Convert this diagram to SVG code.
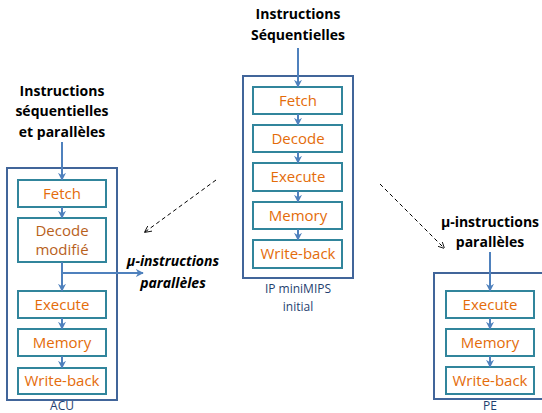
<svg xmlns="http://www.w3.org/2000/svg" width="542" height="413" viewBox="0 0 542 413">
<style>
.outer{fill:#fff;stroke:#41659A;stroke-width:2}
.inner{fill:#fff;stroke:#31859C;stroke-width:2}
.st{font-family:"Open Sans",sans-serif;font-size:15px;fill:#E46C0A;text-anchor:middle}
.dm{fill:#B8611C}
.ti{font-family:"Open Sans",sans-serif;font-size:14px;font-weight:bold;fill:#000;text-anchor:middle}
.lb{font-family:"Open Sans",sans-serif;font-size:12px;fill:#1F3F6F;text-anchor:middle}
.ar{stroke:#4F81BD;stroke-width:2;fill:none}
.da{stroke:#000;stroke-width:1;stroke-dasharray:4,3;fill:none}
</style>
<defs>
<marker id="ah" viewBox="0 0 10 10" refX="9" refY="5" markerWidth="4" markerHeight="4" orient="auto"><path d="M0,0 L10,5 L0,10 L3,5 z" fill="#4F81BD"/></marker>
<marker id="dh" viewBox="0 0 10 10" refX="9" refY="5" markerWidth="7" markerHeight="7" orient="auto"><path d="M0,0 L10,5 L0,10" fill="none" stroke="#000" stroke-width="1.2"/></marker>
</defs>

<g id="acu">
<rect class="outer" x="7" y="168" width="110" height="232"/>
<text class="lb" x="62" y="409.5">ACU</text>
</g>
<g id="acu-fetch"><rect class="inner" x="18" y="180" width="88" height="27"/><text class="st" x="62" y="199">Fetch</text></g>
<g id="acu-decode"><rect class="inner" x="18" y="218" width="88" height="44"/><text class="st dm" x="62" y="236">Decode</text><text class="st dm" x="62" y="255">modifié</text></g>
<g id="acu-execute"><rect class="inner" x="18" y="291" width="88" height="27"/><text class="st" x="62" y="310">Execute</text></g>
<g id="acu-memory"><rect class="inner" x="18" y="329" width="88" height="27"/><text class="st" x="62" y="348">Memory</text></g>
<g id="acu-writeback"><rect class="inner" x="18" y="368" width="88" height="26"/><text class="st" x="62" y="386">Write-back</text></g>
<g id="acu-title"><text class="ti" x="62" y="96">Instructions</text><text class="ti" x="62" y="116">séquentielles</text><text class="ti" x="62" y="137">et parallèles</text></g>
<g id="micro-left"><text class="ti" x="173" y="266" font-style="italic">µ-instructions</text><text class="ti" x="173" y="288" font-style="italic">parallèles</text></g>

<g id="ip">
<rect class="outer" x="243" y="76" width="110" height="202"/>
<text class="lb" x="298" y="293">IP miniMIPS</text>
<text class="lb" x="298" y="311">initial</text>
</g>
<g id="ip-fetch"><rect class="inner" x="253" y="87" width="89" height="27"/><text class="st" x="298" y="106">Fetch</text></g>
<g id="ip-decode"><rect class="inner" x="253" y="125" width="89" height="27"/><text class="st" x="298" y="144">Decode</text></g>
<g id="ip-execute"><rect class="inner" x="253" y="163" width="89" height="28"/><text class="st" x="298" y="182">Execute</text></g>
<g id="ip-memory"><rect class="inner" x="253" y="202" width="89" height="27"/><text class="st" x="298" y="221">Memory</text></g>
<g id="ip-writeback"><rect class="inner" x="253" y="240" width="89" height="28"/><text class="st" x="298" y="259">Write-back</text></g>
<g id="ip-title"><text class="ti" x="298" y="19">Instructions</text><text class="ti" x="298" y="40">Séquentielles</text></g>

<g id="pe">
<rect class="outer" x="434" y="273" width="112" height="126"/>
<text class="lb" x="490" y="409.5">PE</text>
</g>
<g id="pe-execute"><rect class="inner" x="446" y="291" width="88" height="27"/><text class="st" x="490" y="310">Execute</text></g>
<g id="pe-memory"><rect class="inner" x="446" y="329" width="88" height="27"/><text class="st" x="490" y="348">Memory</text></g>
<g id="pe-writeback"><rect class="inner" x="446" y="367" width="88" height="27"/><text class="st" x="490" y="386">Write-back</text></g>
<g id="pe-title"><text class="ti" x="490" y="227">µ-instructions</text><text class="ti" x="490" y="247">parallèles</text></g>

<g id="connectors">
<line class="ar" x1="62" y1="142" x2="62" y2="180" marker-end="url(#ah)"/>
<line class="ar" x1="62" y1="207" x2="62" y2="218" marker-end="url(#ah)"/>
<line class="ar" x1="62" y1="262" x2="62" y2="291" marker-end="url(#ah)"/>
<line class="ar" x1="62" y1="273" x2="143" y2="273" marker-end="url(#ah)"/>
<line class="ar" x1="62" y1="318" x2="62" y2="329" marker-end="url(#ah)"/>
<line class="ar" x1="62" y1="356" x2="62" y2="368" marker-end="url(#ah)"/>
<line class="ar" x1="298" y1="48" x2="298" y2="87" marker-end="url(#ah)"/>
<line class="ar" x1="298" y1="114" x2="298" y2="125" marker-end="url(#ah)"/>
<line class="ar" x1="298" y1="152" x2="298" y2="163" marker-end="url(#ah)"/>
<line class="ar" x1="298" y1="191" x2="298" y2="202" marker-end="url(#ah)"/>
<line class="ar" x1="298" y1="229" x2="298" y2="240" marker-end="url(#ah)"/>
<line class="ar" x1="490" y1="252" x2="490" y2="291" marker-end="url(#ah)"/>
<line class="ar" x1="490" y1="318" x2="490" y2="329" marker-end="url(#ah)"/>
<line class="ar" x1="490" y1="356" x2="490" y2="367" marker-end="url(#ah)"/>
<line class="da" x1="216" y1="180" x2="145" y2="232" marker-end="url(#dh)"/>
<line class="da" x1="380" y1="184" x2="444" y2="248" marker-end="url(#dh)"/>
</g>
</svg>
